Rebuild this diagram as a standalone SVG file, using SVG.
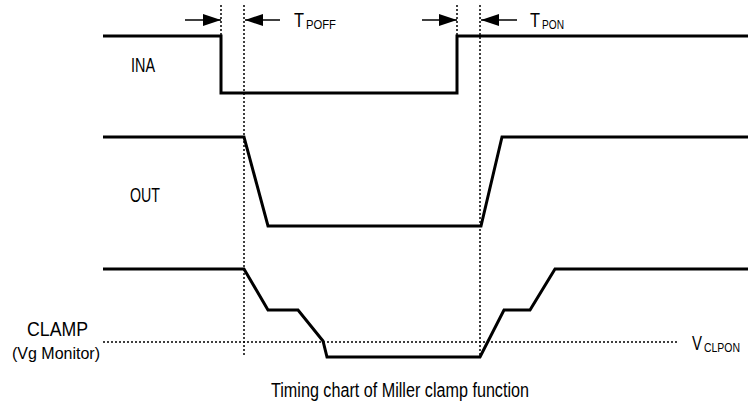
<svg xmlns="http://www.w3.org/2000/svg" width="748" height="405" viewBox="0 0 748 405">
<style>
.wave{fill:none;stroke:#000;stroke-width:3;stroke-linejoin:miter}
.dot{fill:none;stroke:#000;stroke-width:1.5;stroke-dasharray:2,2}
.arr{stroke:#000;stroke-width:1.5}
.lbl{font-family:"Liberation Sans",Arial,sans-serif;font-size:20px;fill:#000}
.sub{font-family:"Liberation Sans",Arial,sans-serif;font-size:13px;fill:#000}
.small{font-family:"Liberation Sans",Arial,sans-serif;font-size:16px;fill:#000}
</style>
<defs>
<marker id="ah" viewBox="0 0 18 12" refX="18" refY="6" markerWidth="18" markerHeight="12" markerUnits="userSpaceOnUse" orient="auto">
<path d="M0,0 L18,6 L0,12 Z" fill="#000"/>
</marker>
</defs>
<rect width="748" height="405" fill="#fff"/>
<g id="connectors">
<path class="dot" d="M221,5V93 M457,5V93 M244,5V356 M480,5V357 M103,342H677"/>
<line class="arr" x1="185" y1="20" x2="221" y2="20" marker-end="url(#ah)"/>
<line class="arr" x1="280" y1="20" x2="245" y2="20" marker-end="url(#ah)"/>
<line class="arr" x1="422" y1="20" x2="457" y2="20" marker-end="url(#ah)"/>
<line class="arr" x1="517" y1="20" x2="481" y2="20" marker-end="url(#ah)"/>
</g>
<g id="INA">
<path class="wave" d="M103,36H221V93H457V36H748"/>
<text class="lbl" x="131" y="72" textLength="24" lengthAdjust="spacingAndGlyphs">INA</text>
</g>
<g id="OUT">
<path class="wave" d="M103,137H244L268,226H481L502,137H748"/>
<text class="lbl" x="130" y="202" textLength="30" lengthAdjust="spacingAndGlyphs">OUT</text>
</g>
<g id="CLAMP">
<path class="wave" d="M103,269H244L268,310H298L323,341L327,357H480L504,310H530L555,269H748"/>
<text class="lbl" x="27" y="336" textLength="61" lengthAdjust="spacingAndGlyphs">CLAMP</text>
<text class="small" x="12" y="359" textLength="88" lengthAdjust="spacingAndGlyphs">(Vg Monitor)</text>
</g>
<g id="TPOFF">
<text class="lbl" x="294" y="27" textLength="10" lengthAdjust="spacingAndGlyphs">T</text>
<text class="sub" x="306" y="29" textLength="30" lengthAdjust="spacingAndGlyphs">POFF</text>
</g>
<g id="TPON">
<text class="lbl" x="530" y="27" textLength="10" lengthAdjust="spacingAndGlyphs">T</text>
<text class="sub" x="542" y="29" textLength="22" lengthAdjust="spacingAndGlyphs">PON</text>
</g>
<g id="VCLPON">
<text class="lbl" x="692" y="350" textLength="10" lengthAdjust="spacingAndGlyphs">V</text>
<text class="sub" x="704" y="352" textLength="36" lengthAdjust="spacingAndGlyphs">CLPON</text>
</g>
<g id="title">
<text class="lbl" x="271" y="397" textLength="258" lengthAdjust="spacingAndGlyphs">Timing chart of Miller clamp function</text>
</g>
</svg>
